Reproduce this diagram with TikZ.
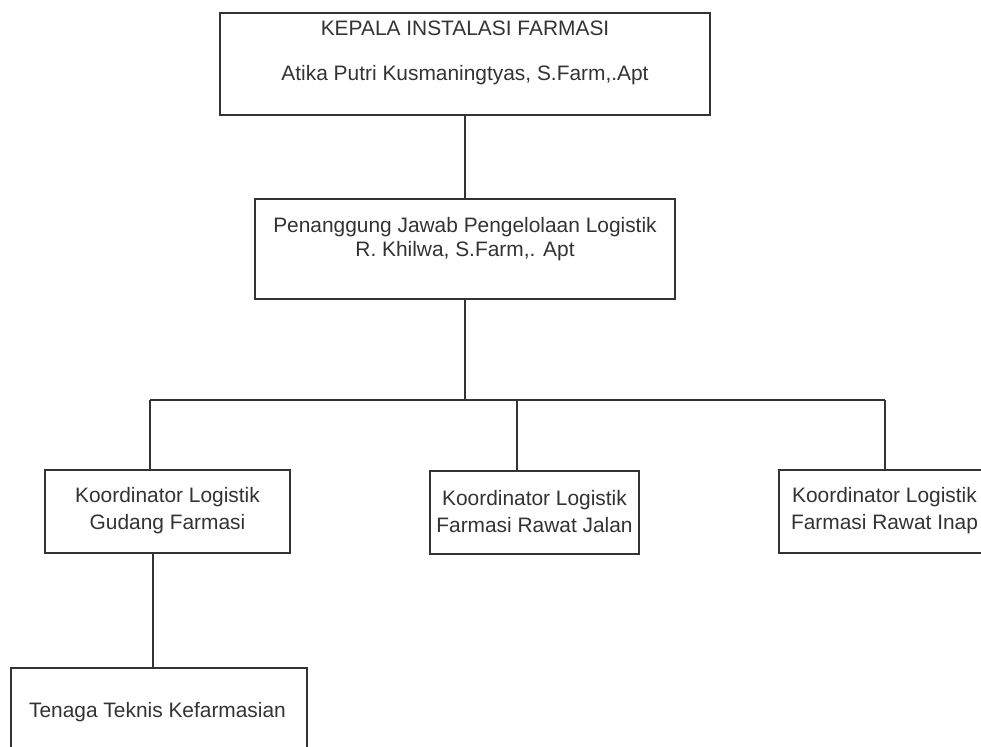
\documentclass[tikz,border=0pt]{standalone}
\usepackage{fontspec}
\setmainfont{Liberation Sans}
\definecolor{ink}{HTML}{333333}
\begin{document}
\begin{tikzpicture}[x=1pt,y=-1pt,
  box/.style={draw=ink,line width=1.4pt,fill=white,inner sep=0pt},
  lbl/.style={text=ink,inner sep=0pt,font=\fontsize{20.9}{24}\selectfont,align=center},
  conn/.style={draw=ink,line width=1.4pt}]
\useasboundingbox (0,0) rectangle (981,746);
\clip (0,0) rectangle (981,746);
% boxes
\node[box,minimum width=490pt,minimum height=102pt] (kepala) at (465,64) {};
\node[box,minimum width=420pt,minimum height=100pt] (pj) at (465,249) {};
\node[box,minimum width=245pt,minimum height=83pt] (k1) at (167.5,511.5) {};
\node[box,minimum width=209pt,minimum height=83pt] (k2) at (534.5,512.5) {};
\node[box,minimum width=212pt,minimum height=83pt] (k3) at (885,511.5) {};
\node[box,minimum width=296pt,minimum height=88pt] (tt) at (159,712) {};
% texts
\node[lbl] (t1a) at (465,28) {KEPALA INSTALASI FARMASI};
\node[lbl] (t1b) at (465,75) {Atika Putri Kusmaningtyas, S.Farm,.Apt};
\node[lbl] (t2a) at (465,227) {Penanggung Jawab Pengelolaan Logistik};
\node[lbl] (t2b) at (465,251) {R. Khilwa, S.Farm,. Apt};
\node[lbl] (t3) at (167.5,511) {Koordinator Logistik\\[3pt]Gudang Farmasi};
\node[lbl] (t4) at (534.5,512) {Koordinator Logistik\\[3pt]Farmasi Rawat Jalan};
\node[lbl] (t5) at (884.5,511) {Koordinator Logistik\\[3pt]Farmasi Rawat Inap};
\node[lbl] (t6) at (157.5,712) {Tenaga Teknis Kefarmasian};
% bus coordinates
\coordinate (bus) at (465,400);
\coordinate (busL) at (150,400);
\coordinate (busM) at (517,400);
\coordinate (busR) at (885,400);
\coordinate (drop) at (153,553);
% connectors
\draw[conn] (kepala.south) -- (pj.north);
\draw[conn] (pj.south) -- (bus);
\draw[conn] (busL) -- (busR);
\draw[conn] (busL) -- (busL |- k1.north);
\draw[conn] (busM) -- (busM |- k2.north);
\draw[conn] (busR) -- (busR |- k3.north);
\draw[conn] (drop |- k1.south) -- (drop |- tt.north);
\end{tikzpicture}
\end{document}
